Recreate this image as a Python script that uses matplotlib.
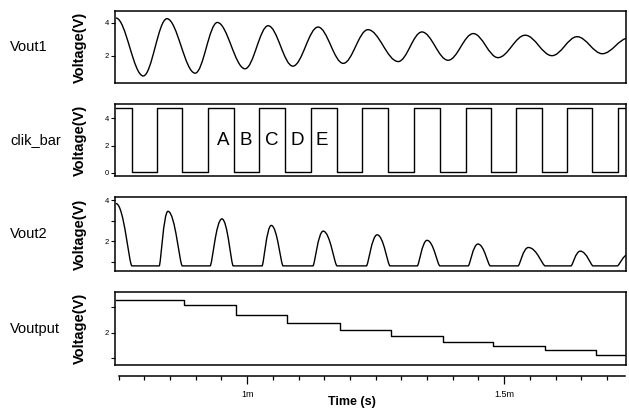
import matplotlib
matplotlib.use("Agg")
import matplotlib.pyplot as plt
from matplotlib.path import Path
from matplotlib.patches import PathPatch
from matplotlib.ticker import MultipleLocator

plt.rcParams['font.family'] = ['Liberation Sans', 'DejaVu Sans']

# ---- data (time in ms) ----
row_names = ['Vout1', 'clik_bar', 'Vout2', 'Voutput']

# Vout1: extrema of the damped oscillation
vout1_t = [0.745, 0.798, 0.844, 0.899, 0.942, 0.996, 1.041, 1.089, 1.138, 1.187, 1.235,
           1.294, 1.340, 1.391, 1.440, 1.488, 1.541, 1.593, 1.642, 1.691, 1.742]
vout1_v = [4.30, 0.76, 4.26, 0.93, 4.03, 1.20, 3.83, 1.36, 3.75, 1.53, 3.59,
           1.64, 3.45, 1.72, 3.35, 1.88, 3.25, 2.00, 3.16, 2.12, 3.08]

# clik_bar: edge times and level of each segment
clk_t = [0.745, 0.776, 0.825, 0.874, 0.924, 0.975, 1.023, 1.074, 1.125, 1.175, 1.224,
         1.274, 1.325, 1.375, 1.426, 1.475, 1.523, 1.574, 1.623, 1.671, 1.722]
clk_v = [4.75, 0.05, 4.75, 0.05, 4.75, 0.05, 4.75, 0.05, 4.75, 0.05, 4.75,
         0.05, 4.75, 0.05, 4.75, 0.05, 4.75, 0.05, 4.75, 0.05, 4.75]
clk_letters = ['A', 'B', 'C', 'D', 'E']
clk_letter_t = [0.953, 0.998, 1.047, 1.097, 1.146]
clk_letter_v = 2.37

# Vout2: baseline / peak knots
vout2_t = [0.745, 0.776, 0.829, 0.846, 0.874, 0.928, 0.951, 0.973, 1.029, 1.047, 1.070,
           1.128, 1.148, 1.175, 1.232, 1.253, 1.278, 1.331, 1.350, 1.375, 1.430, 1.449,
           1.473, 1.527, 1.547, 1.580, 1.630, 1.648, 1.673, 1.720, 1.743]
vout2_v = [3.85, 0.80, 0.80, 3.47, 0.80, 0.80, 3.10, 0.80, 0.80, 2.78, 0.80,
           0.80, 2.50, 0.80, 0.80, 2.32, 0.80, 0.80, 2.05, 0.80, 0.80, 1.87,
           0.80, 0.80, 1.70, 0.80, 0.80, 1.52, 0.80, 0.80, 1.38]

# Voutput: staircase
vo_t = [0.745, 0.877, 0.979, 1.078, 1.181, 1.280, 1.381, 1.479, 1.580, 1.679]
vo_v = [3.28, 3.08, 2.69, 2.39, 2.12, 1.86, 1.63, 1.45, 1.30, 1.13]

t_end = 1.737
time_ticks = [1.0, 1.5]
time_labels = ['1m', '1.5m']


def smooth_path(t, v, k_peak=0.36, k_flat=0.36):
    # cubic segments with flat tangents at every knot;
    # k sets how far the handle reaches (round tops, tight corners at flat runs)
    def k_at(j):
        flat = (j > 0 and v[j - 1] == v[j]) or (j < len(v) - 1 and v[j + 1] == v[j])
        return k_flat if flat else k_peak
    verts = [(t[0], v[0])]
    codes = [Path.MOVETO]
    for i in range(1, len(t)):
        dt = t[i] - t[i - 1]
        verts += [(t[i - 1] + k_at(i - 1) * dt, v[i - 1]),
                  (t[i] - k_at(i) * dt, v[i]), (t[i], v[i])]
        codes += [Path.CURVE4] * 3
    return Path(verts, codes)


fig = plt.figure(figsize=(6.29, 4.09), dpi=100)
W, H = 629, 409


def rect(top, bot):
    return [115 / W, 1 - bot / H, 511 / W, (bot - top) / H]


panels = [(11, 83), (104, 176), (197, 271), (292, 365)]
ylims = [(0.33, 4.73), (-0.22, 5.04), (0.55, 4.17), (0.72, 3.6)]
yticks = [[2, 4], [0, 2, 4], [1, 2, 3, 4], [1, 2, 3]]
ylabels = [['2', '4'], ['0', '2', '4'], ['', '2', '', '4'], ['', '2', '']]

axes = []
for i, (top, bot) in enumerate(panels):
    ax = fig.add_axes(rect(top, bot))
    ax.set_xlim(0.743, t_end)
    ax.set_ylim(*ylims[i])
    ax.set_xticks([])
    ax.set_yticks(yticks[i])
    ax.set_yticklabels(ylabels[i], fontsize=5.5)
    ax.tick_params(axis='y', length=3, width=0.8, pad=1.5)
    for s in ax.spines.values():
        s.set_linewidth(1.1)
    fig.text(80 / W, 1 - (top + bot) / 2 / H, 'Voltage(V)', rotation=90,
             ha='center', va='center', fontsize=10.5, fontweight='bold')
    fig.text(10 / W, 1 - (top + bot) / 2 / H, row_names[i], ha='left', va='center',
             fontsize=10.5)
    axes.append(ax)

ax1, ax2, ax3, ax4 = axes

ax1.add_patch(PathPatch(smooth_path(vout1_t, vout1_v), fill=False, ec='black', lw=1.0))

ax2.step(clk_t + [t_end], clk_v + [clk_v[-1]], where='post', color='black', lw=1.0)
for s, t in zip(clk_letters, clk_letter_t):
    ax2.text(t, clk_letter_v, s, ha='center', va='center', fontsize=13.5)

ax3.add_patch(PathPatch(smooth_path(vout2_t, vout2_v, k_peak=0.5, k_flat=0.18),
                        fill=False, ec='black', lw=1.0))

ax4.step(vo_t + [t_end], vo_v + [vo_v[-1]], where='post', color='black', lw=1.0)

# separate time axis under the panels
axt = fig.add_axes([115 / W, 1 - 376 / H, 511 / W, 0.001])
axt.patch.set_visible(False)
axt.set_xlim(0.743, t_end)
for side in ['left', 'right', 'top']:
    axt.spines[side].set_visible(False)
axt.spines['bottom'].set_bounds(0.75, 1.735)
axt.spines['bottom'].set_linewidth(1.1)
axt.set_yticks([])
axt.set_xticks(time_ticks)
axt.set_xticklabels(time_labels, fontsize=6.5)
axt.xaxis.set_minor_locator(MultipleLocator(0.05))
axt.tick_params(axis='x', which='major', length=6, width=0.9, pad=4)
axt.tick_params(axis='x', which='minor', length=3, width=0.9)
fig.text(352 / W, 1 - 402 / H, 'Time (s)', ha='center', va='center',
         fontsize=9, fontweight='bold')

fig.savefig('out.png', dpi=100)
